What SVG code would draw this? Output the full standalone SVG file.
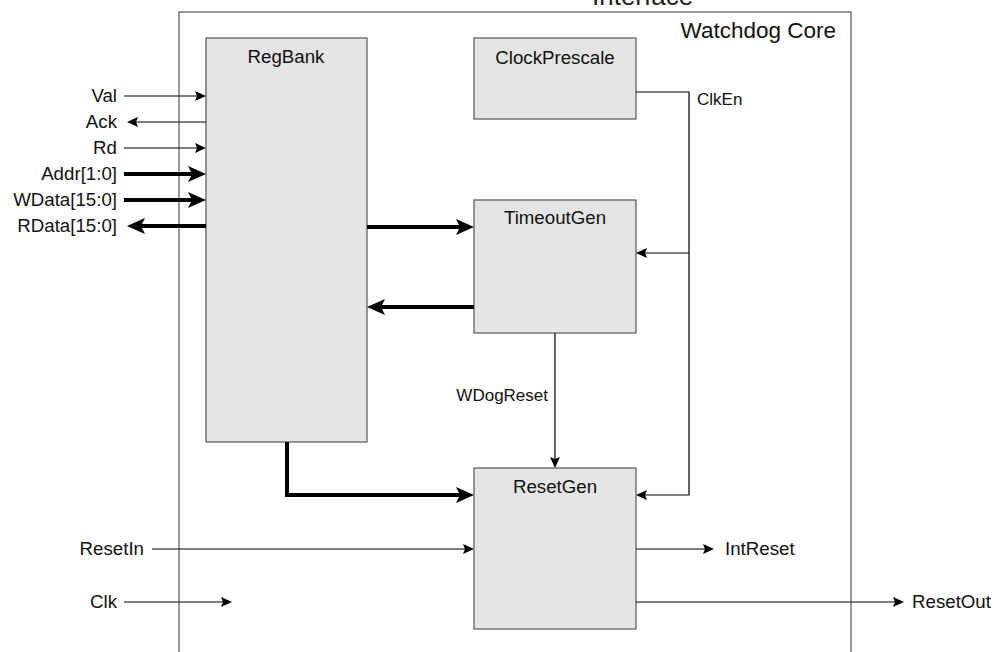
<svg xmlns="http://www.w3.org/2000/svg" width="994" height="652" viewBox="0 0 994 652">
<style>
  .lbl{font-family:"Liberation Sans",Arial,sans-serif;font-size:18.7px;fill:#111}
  .sm{font-family:"Liberation Sans",Arial,sans-serif;font-size:17px;fill:#111}
  .blk{fill:#e5e5e5;stroke:#555;stroke-width:1.2}
  .w{fill:none;stroke:#000;stroke-width:1.2}
  .thin{fill:none;stroke:#000;stroke-width:1.2;marker-end:url(#ah)}
  .thick{fill:none;stroke:#000;stroke-width:4;stroke-linejoin:miter;marker-end:url(#ahb)}
</style>
<defs>
  <marker id="ah" markerUnits="userSpaceOnUse" markerWidth="12" markerHeight="11" refX="2" refY="5" orient="auto" overflow="visible">
    <path d="M0,0 L11,5 L0,10 L2,5 z" fill="#000"/>
  </marker>
  <marker id="ahb" markerUnits="userSpaceOnUse" markerWidth="19" markerHeight="17" refX="4" refY="8" orient="auto" overflow="visible">
    <path d="M0,0 L18,8 L0,16 L4,8 z" fill="#000"/>
  </marker>
</defs>
<rect width="994" height="652" fill="#fff"/>
<g id="watchdog-core">
  <rect x="179" y="12" width="672" height="660" fill="none" stroke="#7f7f7f" stroke-width="1.6"/>
  <text x="836" y="38" text-anchor="end" style="font-family:'Liberation Sans',Arial,sans-serif;font-size:22.5px;fill:#111">Watchdog Core</text>
  <text x="592" y="5" style="font-family:'Liberation Sans',Arial,sans-serif;font-size:26px;fill:#222">Interface</text>
</g>
<g id="regbank">
  <rect class="blk" x="206" y="38" width="161" height="404"/>
  <text class="lbl" x="286" y="63" text-anchor="middle">RegBank</text>
</g>
<g id="clockprescale">
  <rect class="blk" x="474" y="38" width="162" height="81"/>
  <text class="lbl" x="555" y="64" text-anchor="middle">ClockPrescale</text>
</g>
<g id="timeoutgen">
  <rect class="blk" x="474" y="200" width="162" height="133"/>
  <text class="lbl" x="555" y="224" text-anchor="middle">TimeoutGen</text>
</g>
<g id="resetgen">
  <rect class="blk" x="474" y="468" width="162" height="161"/>
  <text class="lbl" x="555" y="493" text-anchor="middle">ResetGen</text>
</g>
<g id="connectors">
  <path class="thin" d="M124,96 H197"/>
  <path class="thin" d="M206,122 H136"/>
  <path class="thin" d="M124,148 H197"/>
  <path class="thick" d="M124,174 H192"/>
  <path class="thick" d="M124,200 H192"/>
  <path class="thick" d="M206,226 H141"/>
  <path class="thick" d="M367,227 H460"/>
  <path class="thick" d="M474,307 H381"/>
  <path class="thin" d="M555,333 V459"/>
  <path class="thin" d="M636,92 H689 V495 H645"/>
  <path class="thin" d="M689,253 H645"/>
  <path class="thick" d="M287,442 V495 H460"/>
  <path class="thin" d="M152,549 H465"/>
  <path class="thin" d="M124,602 H223"/>
  <path class="thin" d="M636,549 H705"/>
  <path class="thin" d="M636,602 H895"/>
</g>
<g id="labels">
  <text class="lbl" x="117" y="102" text-anchor="end">Val</text>
  <text class="lbl" x="117" y="128" text-anchor="end">Ack</text>
  <text class="lbl" x="117" y="154" text-anchor="end">Rd</text>
  <text class="lbl" x="117" y="180" text-anchor="end">Addr[1:0]</text>
  <text class="lbl" x="117" y="206" text-anchor="end">WData[15:0]</text>
  <text class="lbl" x="117" y="232" text-anchor="end">RData[15:0]</text>
  <text class="sm" x="697" y="105">ClkEn</text>
  <text class="sm" x="548" y="401" text-anchor="end">WDogReset</text>
  <text class="lbl" x="144" y="555" text-anchor="end">ResetIn</text>
  <text class="lbl" x="117" y="608" text-anchor="end">Clk</text>
  <text class="lbl" x="725" y="555">IntReset</text>
  <text class="lbl" x="912" y="608">ResetOut</text>
</g>
</svg>
